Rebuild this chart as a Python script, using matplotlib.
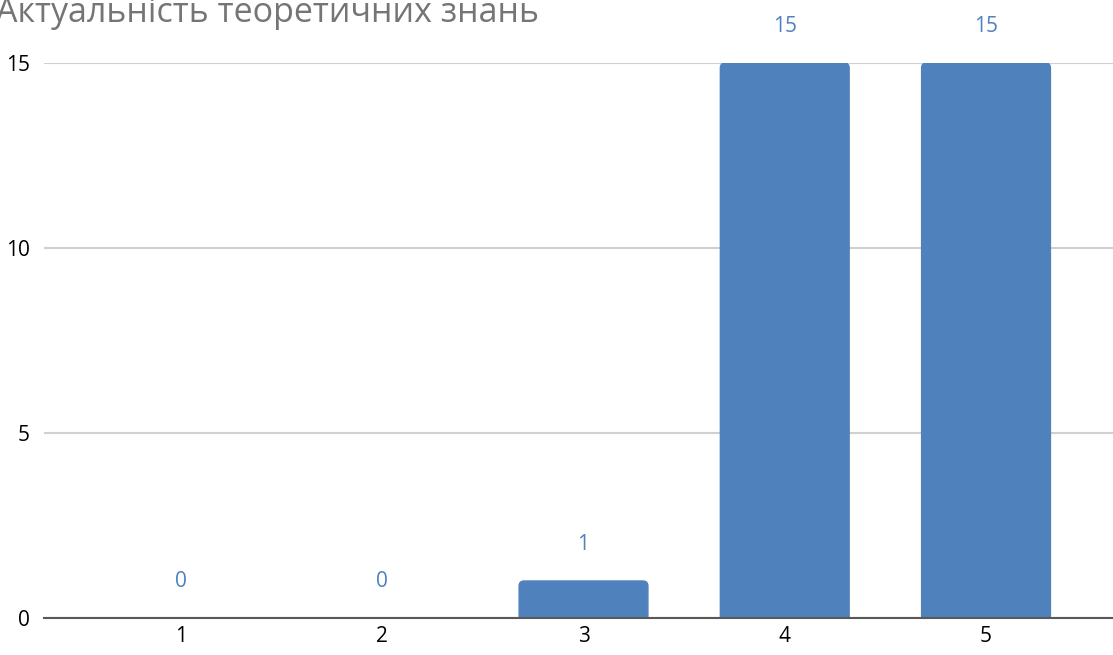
import matplotlib.pyplot as plt
from matplotlib.patches import FancyBboxPatch

categories = ['1', '2', '3', '4', '5']
counts = [0, 0, 1, 15, 15]
title = 'Актуальність теоретичних знань'

plt.rcParams['font.family'] = ['Open Sans', 'DejaVu Sans']

fig = plt.figure(figsize=(11.13, 6.55), dpi=100)
ax = fig.add_axes([0.0395, 0.0565, 0.9605, 0.8473])

x = list(range(1, len(categories) + 1))
bars = ax.bar(x, counts, width=0.64, color='#4f81bd', zorder=3)

# swap plain bars for ones with slightly rounded tops
for b in bars:
    h = b.get_height()
    if h <= 0:
        continue
    b.set_visible(False)
    ax.add_patch(FancyBboxPatch((b.get_x(), -0.3), b.get_width(), h + 0.3,
                                boxstyle='round,pad=0,rounding_size=0.025',
                                mutation_aspect=5.4, color='#4f81bd', zorder=3))

for xi, v in zip(x, counts):
    ax.annotate(str(v), (xi, v), xytext=(0, 26.5), textcoords='offset points',
                ha='center', va='center', fontsize=15, color='#4f81bd',
                annotation_clip=False)

ax.set_xlim(0.319, 5.631)
ax.set_ylim(0, 15)
ax.set_xticks(x)
ax.set_xticklabels(categories)
ax.set_yticks([0, 5, 10, 15])
ax.tick_params(axis='both', length=0, labelsize=15, colors='black')
ax.tick_params(axis='x', pad=6)
ax.tick_params(axis='y', pad=10)

ax.grid(axis='y', color='#d0d0d0', linewidth=1.5, zorder=0)
ax.set_axisbelow(True)
for s in ['top', 'right', 'left']:
    ax.spines[s].set_visible(False)
ax.spines['bottom'].set_color('#595959')
ax.spines['bottom'].set_linewidth(1.5)
ax.spines['bottom'].set_zorder(4)

fig.text(-0.004, 0.9664, title, fontsize=24.5, color='#757575', ha='left', va='baseline')

fig.savefig('out.png', dpi=100)
